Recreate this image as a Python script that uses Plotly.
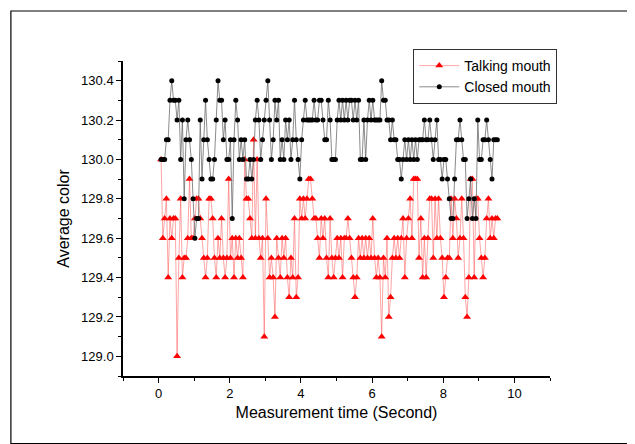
import plotly.graph_objects as go

# Sampling: first sample time and step (seconds)
t_start = 0.07
t_step = 0.05

talking = [
    130.0, 129.6, 129.7, 129.8, 129.4, 129.7, 129.6, 129.7, 129.7, 129.0,
    129.5, 129.8, 129.4, 129.5, 129.5, 129.6, 129.9, 129.6, 129.6, 129.7,
    129.8, 129.8, 129.7, 129.6, 129.5, 129.4, 129.5, 129.8, 129.8, 129.7,
    129.5, 129.4, 129.6, 129.5, 129.7, 129.5, 129.4, 129.5, 129.9, 129.5,
    129.6, 129.4, 129.6, 129.5, 129.6, 129.5, 129.4, 130.0, 129.8, 129.8,
    129.7, 129.6, 130.1, 129.6, 130.0, 129.6, 129.5, 129.6, 129.1, 129.8,
    129.6, 129.4, 129.5, 129.4, 129.2, 129.6, 129.5, 129.4, 129.6, 129.5,
    129.6, 129.4, 129.3, 129.5, 129.4, 129.7, 129.3, 129.4, 129.8, 129.7,
    129.8, 129.7, 129.8, 129.9, 129.9, 129.8, 129.7, 129.7, 129.6, 129.5,
    129.7, 129.6, 129.7, 129.5, 129.4, 129.7, 129.5, 129.4, 129.5, 129.6,
    129.5, 129.6, 129.4, 129.6, 129.6, 129.7, 129.6, 129.5, 129.4, 129.3,
    129.4, 129.6, 129.5, 129.6, 129.5, 129.6, 129.5, 129.6, 129.5, 129.7,
    129.5, 129.4, 129.5, 129.4, 129.1, 129.5, 129.4, 129.6, 129.2, 129.3,
    129.5, 129.6, 129.5, 129.6, 129.5, 129.6, 129.7, 129.4, 129.6, 129.7,
    129.8, 129.6, 129.9, 129.9, 129.9, 129.5, 129.7, 129.4, 129.6, 129.4,
    129.6, 129.8, 129.8, 129.5, 129.8, 129.6, 129.8, 129.6, 129.5, 129.3,
    129.4, 129.5, 129.5, 129.8, 129.6, 129.8, 129.7, 129.5, 129.6, 129.8,
    129.6, 129.3, 129.2, 129.4, 129.9, 129.9, 129.4, 129.8, 129.8, 129.6,
    129.5, 129.4, 129.5, 129.7, 129.8, 129.6, 129.7, 129.6, 129.7, 129.7,
]

closed = [
    130.0, 130.0, 130.0, 130.1, 130.1, 130.3, 130.4, 130.3, 130.3, 130.2,
    130.3, 130.0, 130.2, 129.8, 130.1, 130.2, 130.1, 130.0, 129.8, 129.6,
    129.7, 129.7, 130.2, 129.9, 130.1, 130.3, 130.1, 130.0, 129.9, 129.9,
    130.0, 130.2, 130.4, 130.3, 130.3, 130.1, 130.2, 130.0, 130.0, 130.1,
    129.7, 130.1, 130.3, 130.2, 130.0, 130.1, 130.0, 130.1, 129.9, 129.9,
    130.0, 129.9, 130.0, 130.2, 130.3, 130.2, 130.0, 130.1, 130.2, 130.3,
    130.4, 130.2, 130.0, 130.1, 130.3, 130.2, 130.3, 130.0, 130.1, 130.0,
    130.2, 130.1, 130.2, 130.0, 130.1, 130.3, 130.1, 130.0, 129.9, 130.1,
    130.2, 130.3, 130.2, 130.2, 130.2, 130.2, 130.3, 130.2, 130.2, 130.3,
    130.3, 130.2, 130.1, 130.1, 130.3, 130.2, 130.0, 130.0, 130.0, 130.2,
    130.3, 130.2, 130.3, 130.2, 130.3, 130.2, 130.3, 130.3, 130.2, 130.3,
    130.2, 130.3, 130.0, 130.0, 130.2, 130.0, 130.2, 130.3, 130.2, 130.3,
    130.2, 130.2, 130.2, 130.2, 130.4, 130.3, 130.3, 130.2, 130.2, 130.1,
    130.2, 130.1, 130.1, 130.0, 130.0, 129.9, 130.0, 130.1, 130.0, 130.1,
    130.0, 130.1, 130.0, 130.1, 130.0, 130.1, 130.1, 130.1, 130.2, 130.1,
    130.1, 130.2, 130.1, 130.0, 130.1, 130.2, 130.0, 130.0, 129.9, 130.0,
    130.0, 129.9, 129.8, 129.7, 129.7, 129.9, 130.1, 130.1, 130.2, 130.1,
    130.0, 130.0, 129.7, 129.8, 129.9, 129.7, 129.8, 129.7, 130.2, 130.0,
    130.0, 130.1, 130.1, 130.2, 130.1, 130.0, 129.9, 130.1, 130.1, 130.1,
]

times = [round(t_start + t_step * i, 3) for i in range(len(talking))]

FONT = "Liberation Sans"

fig = go.Figure()
fig.add_trace(go.Scatter(
    x=times, y=talking, mode="lines+markers", name="Talking mouth",
    line=dict(color="rgba(255,90,90,0.55)", width=1),
    marker=dict(symbol="triangle-up", color="#ff0000", size=7,
                line=dict(width=0)),
))
fig.add_trace(go.Scatter(
    x=times, y=closed, mode="lines+markers", name="Closed mouth",
    line=dict(color="rgba(100,100,100,0.75)", width=1),
    marker=dict(symbol="circle", color="#000000", size=5,
                line=dict(width=0)),
))

# page body has an 8px margin; positions below are in figure pixels
W, H = 627, 436
L, R, T, B = 115, 541.6, 53, 368
pw, ph = R - L, B - T

def px_to_paper_x(px):
    return (px - L) / pw

def px_to_paper_y(py):
    return (B - py) / ph

fig.update_layout(
    width=W, height=H,
    margin=dict(l=L, r=W - R, t=T, b=H - B, pad=0),
    paper_bgcolor="white", plot_bgcolor="white",
    font=dict(family=FONT, color="black", size=13),
    showlegend=True,
    legend=dict(
        x=px_to_paper_x(405), y=px_to_paper_y(41),
        xanchor="left", yanchor="top",
        bgcolor="white", bordercolor="#333333", borderwidth=1,
        font=dict(size=14, family=FONT),
        tracegroupgap=0, itemwidth=40,
    ),
    xaxis=dict(
        range=[-1, 11], showgrid=False, zeroline=False,
        showline=True, linecolor="black", linewidth=1.5,
        ticks="outside", ticklen=5, tickwidth=1, tickcolor="black",
        tick0=0, dtick=2,
        minor=dict(ticks="outside", ticklen=3, tickwidth=1,
                   tickcolor="black", dtick=1, tick0=0, showgrid=False),
        tickfont=dict(size=13),
        title=dict(text="Measurement time (Second)", font=dict(size=16),
                   standoff=6),
    ),
    yaxis=dict(
        range=[128.9, 130.5], showgrid=False, zeroline=False,
        showline=True, linecolor="black", linewidth=1.5,
        ticks="outside", ticklen=5, tickwidth=1, tickcolor="black",
        tick0=129.0, dtick=0.2, tickformat=".1f",
        minor=dict(ticks="outside", ticklen=3, tickwidth=1,
                   tickcolor="black", dtick=0.1, tick0=129.0, showgrid=False),
        tickfont=dict(size=13),
        title=dict(text="Average color", font=dict(size=16), standoff=8),
    ),
    shapes=[dict(
        type="rect", xref="paper", yref="paper",
        x0=px_to_paper_x(3), x1=px_to_paper_x(625),
        y0=px_to_paper_y(435.5), y1=px_to_paper_y(3),
        line=dict(color="black", width=1.2), fillcolor="rgba(0,0,0,0)",
        layer="below",
    )],
)

fig.write_html("out.html")
